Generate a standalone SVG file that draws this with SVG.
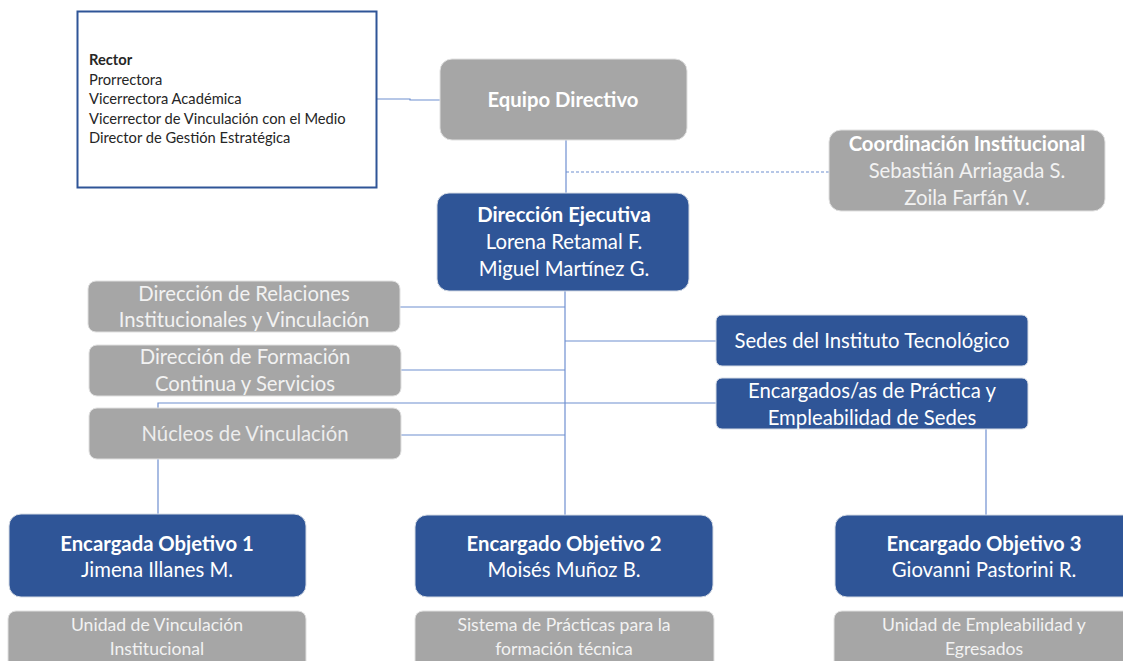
<svg xmlns="http://www.w3.org/2000/svg" width="1123" height="661" viewBox="0 0 1123 661">
<style>
.blue{fill:#2F5597;stroke:#D6DCE5;stroke-width:1}
.gray{fill:#A6A6A6;stroke:#E0E0E0;stroke-width:1}
text{font-family:Lato,"Open Sans","Liberation Sans",sans-serif;text-anchor:middle;fill:#FFFFFF}
.b{font-weight:bold}
.t{font-size:20.3px}
.s{font-size:17.6px;fill:#F2F2F2}
.lt{fill:#F2F2F2}
.ln{fill:none;stroke:#6F8FD0;stroke-width:1.2}
.rec{font-size:14.7px;fill:#262626;text-anchor:start}
</style>
<rect width="1123" height="661" fill="#FFFFFF"/>
<g id="connectors">
<polyline class="ln" points="377,99 410,99 410,100 440,100"/>
<line class="ln" x1="566" y1="140" x2="566" y2="193"/>
<line class="ln" x1="566" y1="172" x2="829" y2="172" stroke-dasharray="3,2" stroke-width="1"/>
<line class="ln" x1="565" y1="291" x2="565" y2="515"/>
<line class="ln" x1="400" y1="307" x2="565" y2="307"/>
<line class="ln" x1="401" y1="370" x2="565" y2="370"/>
<line class="ln" x1="401" y1="435" x2="565" y2="435"/>
<line class="ln" x1="565" y1="341" x2="716" y2="341"/>
<polyline class="ln" points="158,514 158,403 716,403"/>
<line class="ln" x1="986" y1="429" x2="986" y2="515"/>
</g>
<g id="rector">
<rect x="77.5" y="11.5" width="299" height="176" fill="#FFFFFF" stroke="#2F5597" stroke-width="2"/>
<text class="rec b" x="89" y="65">Rector</text>
<text class="rec" x="89" y="85">Prorrectora</text>
<text class="rec" x="89" y="104">Vicerrectora Académica</text>
<text class="rec" x="89" y="124">Vicerrector de Vinculación con el Medio</text>
<text class="rec" x="89" y="143">Director de Gestión Estratégica</text>
</g>
<g id="equipo-directivo">
<rect class="gray" x="440" y="59" width="247" height="81" rx="12"/>
<text class="t b" x="563" y="107">Equipo Directivo</text>
</g>
<g id="coordinacion">
<rect class="gray" x="829" y="130" width="276" height="81" rx="12"/>
<text class="t b" x="967" y="151">Coordinación Institucional</text>
<text class="t lt" x="967" y="178">Sebastián Arriagada S.</text>
<text class="t lt" x="967" y="205">Zoila Farfán V.</text>
</g>
<g id="direccion-ejecutiva">
<rect class="blue" x="437" y="193" width="252" height="98" rx="12"/>
<text class="t b" x="564" y="222">Dirección Ejecutiva</text>
<text class="t" x="564" y="249">Lorena Retamal F.</text>
<text class="t" x="564" y="276">Miguel Martínez G.</text>
</g>
<g id="relaciones">
<rect class="gray" x="88" y="281" width="312" height="51" rx="8"/>
<text class="t lt" x="244" y="301">Dirección de Relaciones</text>
<text class="t lt" x="244" y="327">Institucionales y Vinculación</text>
</g>
<g id="formacion">
<rect class="gray" x="89" y="345" width="312" height="51" rx="8"/>
<text class="t lt" x="245" y="364">Dirección de Formación</text>
<text class="t lt" x="245" y="391">Continua y Servicios</text>
</g>
<g id="nucleos">
<rect class="gray" x="89" y="408" width="312" height="51" rx="8"/>
<text class="t lt" x="245" y="441" style="fill:#EDEDED">Núcleos de Vinculación</text>
</g>
<g id="sedes">
<rect class="blue" x="716" y="315" width="312" height="51" rx="6"/>
<text class="t" x="872" y="348">Sedes del Instituto Tecnológico</text>
</g>
<g id="encargados-sedes">
<rect class="blue" x="716" y="378" width="312" height="51" rx="6"/>
<text class="t" x="872" y="398">Encargados/as de Práctica y</text>
<text class="t" x="872" y="425">Empleabilidad de Sedes</text>
</g>
<g id="objetivo-1">
<rect class="blue" x="9" y="514" width="297" height="83" rx="12"/>
<text class="t b" x="157" y="551">Encargada Objetivo 1</text>
<text class="t" x="157" y="577">Jimena Illanes M.</text>
</g>
<g id="objetivo-2">
<rect class="blue" x="415" y="515" width="298" height="82" rx="12"/>
<text class="t b" x="564" y="551">Encargado Objetivo 2</text>
<text class="t" x="564" y="577">Moisés Muñoz B.</text>
</g>
<g id="objetivo-3">
<rect class="blue" x="835" y="515" width="300" height="82" rx="12"/>
<text class="t b" x="984" y="551">Encargado Objetivo 3</text>
<text class="t" x="984" y="577">Giovanni Pastorini R.</text>
</g>
<g id="unidad-vinculacion">
<rect class="gray" x="8" y="611" width="298" height="60" rx="8"/>
<text class="s" x="157" y="631">Unidad de Vinculación</text>
<text class="s" x="157" y="655">Institucional</text>
</g>
<g id="sistema-practicas">
<rect class="gray" x="415" y="611" width="299" height="60" rx="8"/>
<text class="s" x="564" y="631">Sistema de Prácticas para la</text>
<text class="s" x="564" y="655">formación técnica</text>
</g>
<g id="unidad-empleabilidad">
<rect class="gray" x="834" y="611" width="300" height="60" rx="8"/>
<text class="s" x="984" y="631">Unidad de Empleabilidad y</text>
<text class="s" x="984" y="655">Egresados</text>
</g>
</svg>
